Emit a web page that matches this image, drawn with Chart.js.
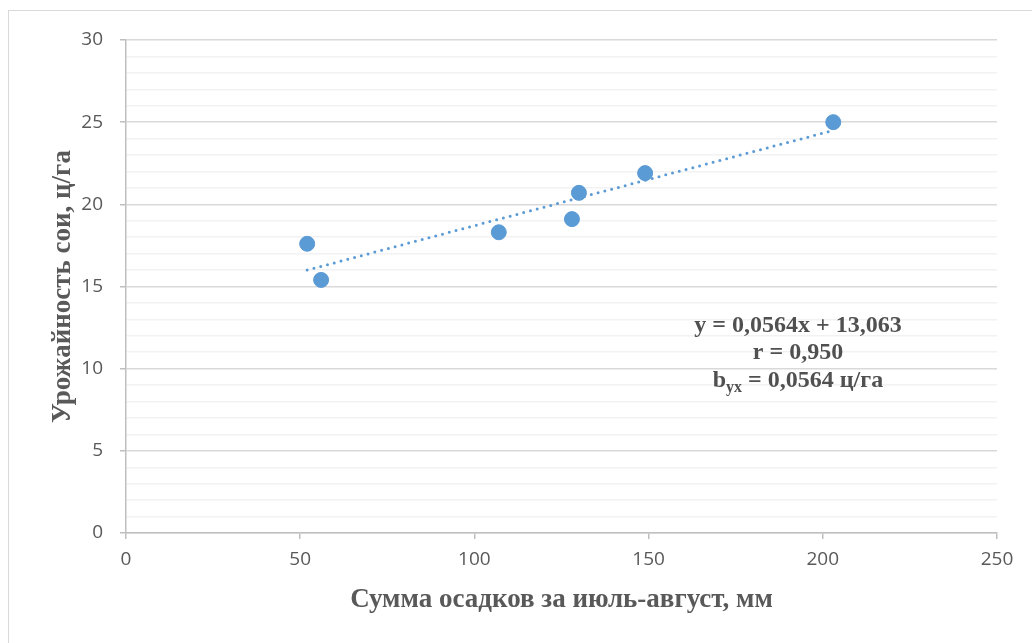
<!DOCTYPE html>
<html>
<head>
<meta charset="utf-8">
<script src="https://cdn.jsdelivr.net/npm/chart.js@4.4.1/dist/chart.umd.min.js"></script>
<style>
  body { margin: 0; background: #fff; }
</style>
</head>
<body>
<canvas id="scatter-chart" width="1032" height="643"></canvas>
<script>
// precipitation (mm) vs soy yield (c/ha)
var rainfall = [52, 56, 107, 128, 130, 149, 203];
var yieldSoy = [17.6, 15.4, 18.3, 19.1, 20.7, 21.9, 25.0];
// linear trend ends
var trendX = [52, 203];
var trendY = [16.0, 24.5];
var xTicks = [0, 50, 100, 150, 200, 250];
var yTicks = [0, 5, 10, 15, 20, 25, 30];
var notes = ["y = 0,0564x + 13,063", "r = 0,950"];

var blue = "#5b9bd5";
var grey = "#595959";
var serif = "'Liberation Serif', 'Times New Roman', serif";

var points = rainfall.map(function (v, i) { return { x: v, y: yieldSoy[i] }; });
var trend = trendX.map(function (v, i) { return { x: v, y: trendY[i] }; });

var frame = {
    id: "frame",
    beforeDraw: function (chart) {
        var c = chart.ctx;
        c.save();
        c.fillStyle = "#fff";
        c.fillRect(0, 0, chart.width, chart.height);
        c.strokeStyle = "#d9d9d9";
        c.lineWidth = 1;
        c.strokeRect(8.5, 10.5, chart.width + 50, chart.height + 50);
        c.restore();
    },
    afterDraw: function (chart) {
        var c = chart.ctx;
        var a = chart.chartArea;
        var cx = a.left + (a.right - a.left) * 0.7715;
        c.save();
        c.fillStyle = "#505050";
        c.textBaseline = "alphabetic";
        c.textAlign = "center";
        c.font = "bold 24px " + serif;
        c.fillText(notes[0], cx, 332);
        c.fillText(notes[1], cx, 359);
        // b with subscript yx
        c.textAlign = "left";
        var big = "bold 24px " + serif, small = "bold 16px " + serif;
        c.font = big; var w1 = c.measureText("b").width;
        c.font = small; var w2 = c.measureText("yx").width;
        c.font = big; var w3 = c.measureText(" = 0,0564 ц/га").width;
        var x0 = cx - (w1 + w2 + w3) / 2;
        c.fillText("b", x0, 387);
        c.font = small; c.fillText("yx", x0 + w1, 392);
        c.font = big; c.fillText(" = 0,0564 ц/га", x0 + w1 + w2, 387);
        c.restore();
    }
};

new Chart(document.getElementById("scatter-chart"), {
    type: "scatter",
    data: {
        datasets: [{
            label: "Урожайность",
            data: points,
            backgroundColor: blue,
            borderColor: blue,
            pointRadius: 7.5,
            pointHoverRadius: 7.5
        }, {
            type: "line",
            label: "Линейная",
            data: trend,
            borderColor: blue,
            borderWidth: 3,
            borderDash: [0, 7],
            borderCapStyle: "round",
            pointRadius: 0,
            fill: false
        }]
    },
    options: {
        responsive: false,
        animation: false,
        layout: { padding: { left: 0, top: 40, right: 35, bottom: 0 } },
        plugins: {
            legend: { display: false },
            tooltip: { enabled: false }
        },
        scales: {
            x: {
                type: "linear",
                min: 0, max: 250,
                afterFit: function (s) { s.height = 110; },
                afterBuildTicks: function (s) { s.ticks = xTicks.map(function (v) { return { value: v }; }); },
                ticks: { color: grey, font: { family: "'Open Sans'", size: 19 }, padding: 9 },
                grid: { drawOnChartArea: false, drawTicks: true, tickLength: 6, color: "#bfbfbf", lineWidth: 1.5 },
                border: { color: "#bfbfbf", width: 1.5 },
                title: {
                    display: true,
                    text: "Сумма осадков за июль-август, мм",
                    color: grey,
                    font: { family: serif, size: 27, weight: "bold" },
                    padding: { top: 0, bottom: 27 }
                }
            },
            y: {
                min: 0, max: 30,
                afterFit: function (s) { s.width = 126; },
                ticks: {
                    stepSize: 1,
                    autoSkip: false,
                    color: grey,
                    font: { family: "'Open Sans'", size: 19 },
                    padding: 17,
                    callback: function (v) { return yTicks.indexOf(v) >= 0 ? v : ""; }
                },
                grid: {
                    tickLength: 6,
                    lineWidth: 1.5,
                    color: function (ctx) { return ctx.tick && ctx.tick.value % 5 === 0 ? "#d9d9d9" : "#f2f2f2"; },
                    tickColor: function (ctx) { return ctx.tick && ctx.tick.value % 5 === 0 ? "#bfbfbf" : "rgba(0,0,0,0)"; }
                },
                border: { color: "#bfbfbf", width: 1.5 },
                title: {
                    display: true,
                    text: "Урожайность сои, ц/га",
                    color: grey,
                    font: { family: serif, size: 27, weight: "bold" },
                    padding: { top: 47, bottom: 0 }
                }
            }
        }
    },
    plugins: [frame]
});
</script>
</body>
</html>
